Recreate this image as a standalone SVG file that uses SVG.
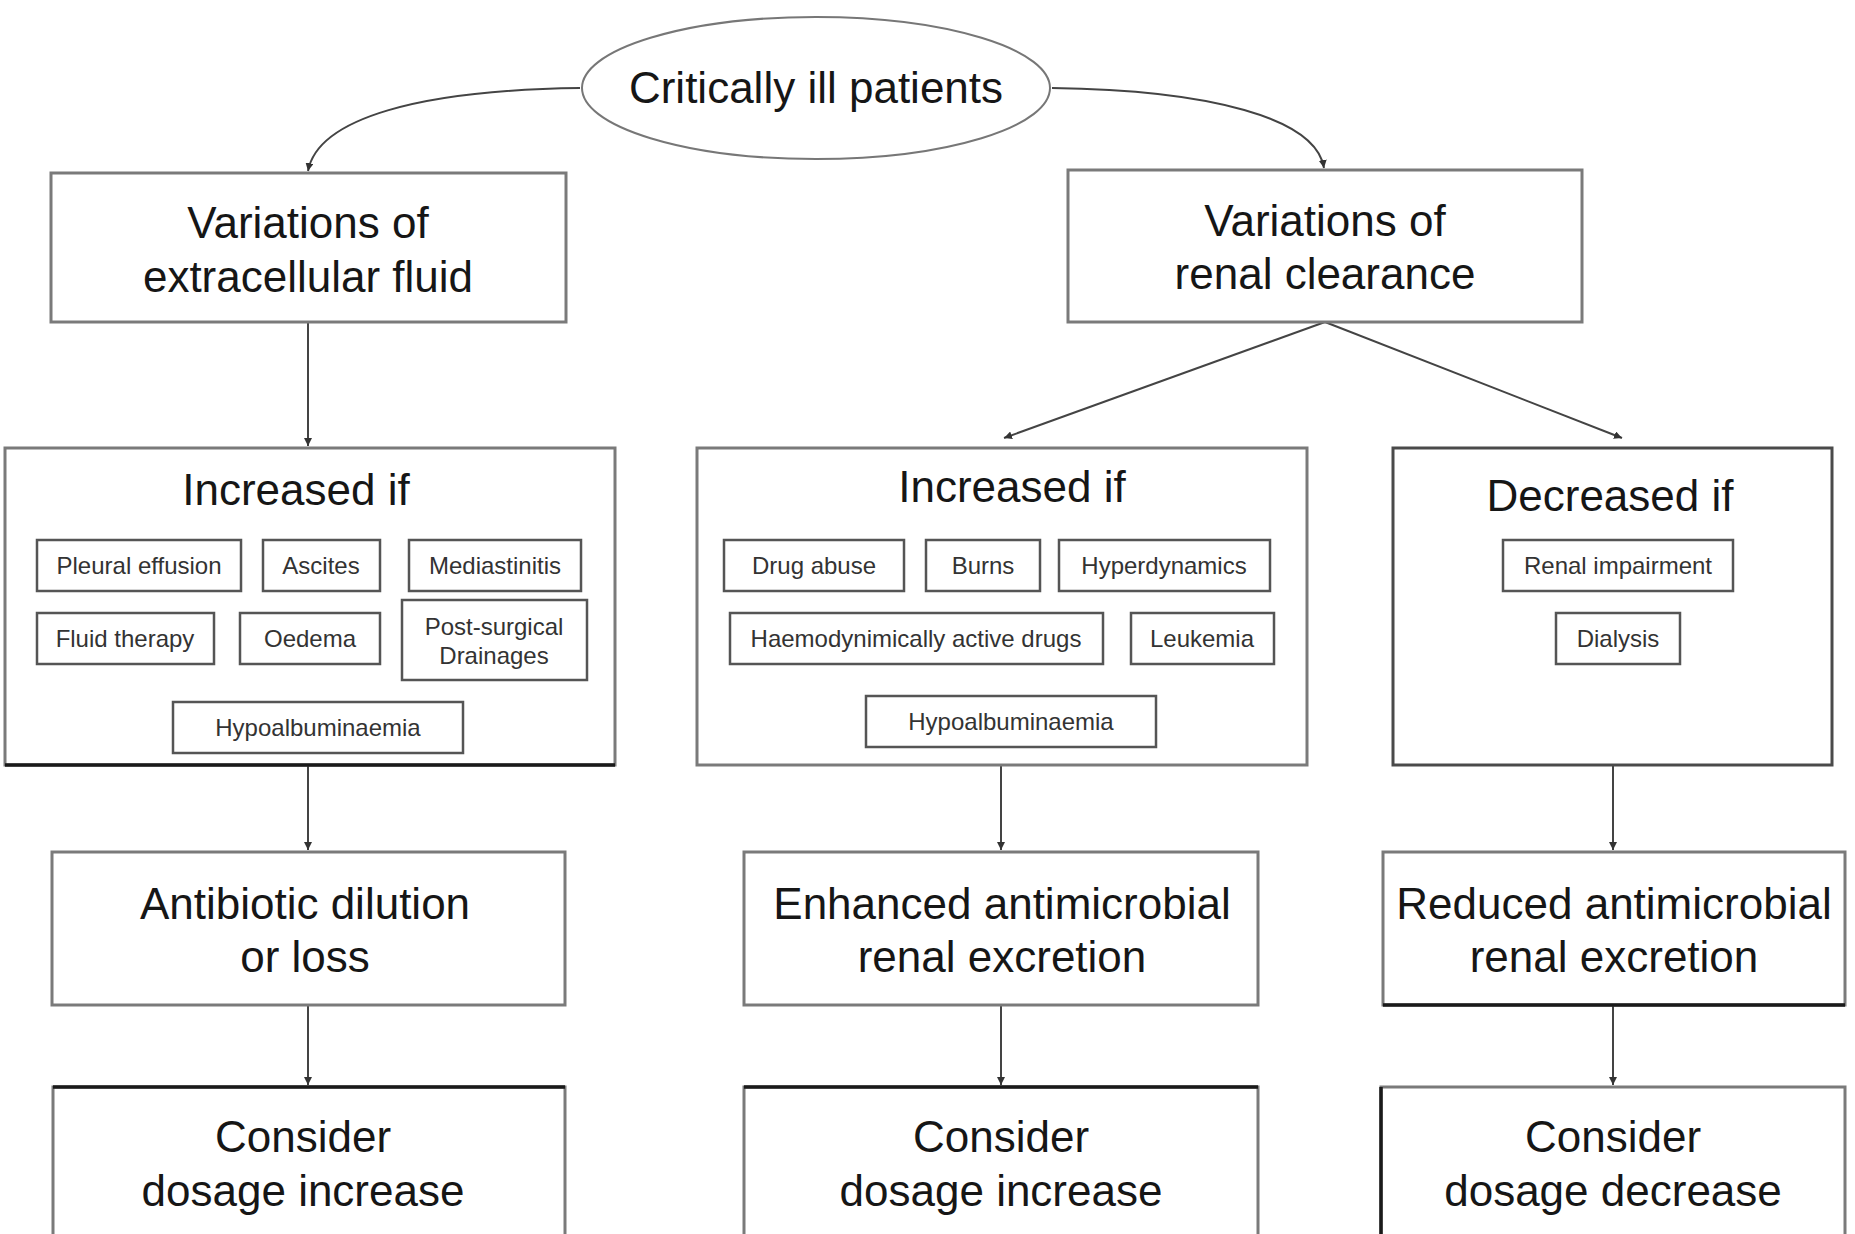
<svg xmlns="http://www.w3.org/2000/svg" width="1855" height="1234" viewBox="0 0 1855 1234">
<style>
.box{fill:#fff;stroke:#7a7a7a;stroke-width:3}
.dark{fill:#fff;stroke:#4a4a4a;stroke-width:3}
.sub{fill:#fff;stroke:#555;stroke-width:2.5}
.edge{stroke:#1a1a1a;stroke-width:3.5;fill:none}
.big{font-family:"Liberation Sans",Arial,sans-serif;font-size:44px;fill:#161616;text-anchor:middle}
.small{font-family:"Liberation Sans",Arial,sans-serif;font-size:24px;fill:#333;text-anchor:middle}
.conn{fill:none;stroke:#444;stroke-width:2}
</style>
<defs>
<marker id="arr" viewBox="0 0 10 10" refX="10" refY="5" markerWidth="4" markerHeight="4" orient="auto">
<path d="M0,0 L10,5 L0,10 Z" fill="#333"/>
</marker>
</defs>
<rect x="0" y="0" width="1855" height="1234" fill="#fff"/>
<g id="connectors">
<path class="conn" d="M580,88 C420,90 318,118 308,171" marker-end="url(#arr)"/>
<path class="conn" d="M1052,88 C1210,90 1316,118 1324,168" marker-end="url(#arr)"/>
<path class="conn" d="M308,322 V446" marker-end="url(#arr)"/>
<path class="conn" d="M1325,322 L1004,438" marker-end="url(#arr)"/>
<path class="conn" d="M1325,322 L1622,438" marker-end="url(#arr)"/>
<path class="conn" d="M308,765 V850" marker-end="url(#arr)"/>
<path class="conn" d="M308,1005 V1085" marker-end="url(#arr)"/>
<path class="conn" d="M1001,766 V850" marker-end="url(#arr)"/>
<path class="conn" d="M1001,1005 V1085" marker-end="url(#arr)"/>
<path class="conn" d="M1613,765 V850" marker-end="url(#arr)"/>
<path class="conn" d="M1613,1005 V1085" marker-end="url(#arr)"/>
</g>
<g id="critically-ill">
<ellipse cx="816" cy="88" rx="234" ry="71" fill="#fff" stroke="#777" stroke-width="2"/>
<text class="big" x="816" y="103">Critically ill patients</text>
</g>
<g id="var-ecf">
<rect class="box" x="51" y="173" width="515" height="149"/>
<text class="big" x="308" y="238">Variations of</text>
<text class="big" x="308" y="292">extracellular fluid</text>
</g>
<g id="var-renal">
<rect class="box" x="1068" y="170" width="514" height="152"/>
<text class="big" x="1325" y="236">Variations of</text>
<text class="big" x="1325" y="289">renal clearance</text>
</g>
<g id="inc-ecf">
<rect class="box" x="5" y="448" width="610" height="317"/>
<path class="edge" d="M5,765 H615" stroke="#444"/>
<text class="big" x="296" y="505">Increased if</text>
<g id="pleural"><rect class="sub" x="37" y="540" width="204" height="51"/><text class="small" x="139" y="574">Pleural effusion</text></g>
<g id="ascites"><rect class="sub" x="263" y="540" width="117" height="51"/><text class="small" x="321" y="574">Ascites</text></g>
<g id="mediastinitis"><rect class="sub" x="409" y="540" width="172" height="51"/><text class="small" x="495" y="574">Mediastinitis</text></g>
<g id="fluid-therapy"><rect class="sub" x="37" y="613" width="177" height="51"/><text class="small" x="125" y="647">Fluid therapy</text></g>
<g id="oedema"><rect class="sub" x="240" y="613" width="140" height="51"/><text class="small" x="310" y="647">Oedema</text></g>
<g id="post-surgical"><rect class="sub" x="402" y="600" width="185" height="80"/><text class="small" x="494" y="635">Post-surgical</text><text class="small" x="494" y="664">Drainages</text></g>
<g id="hypoalb-1"><rect class="sub" x="173" y="702" width="290" height="51"/><text class="small" x="318" y="736">Hypoalbuminaemia</text></g>
</g>
<g id="inc-renal">
<rect class="box" x="697" y="448" width="610" height="317"/>
<text class="big" x="1012" y="502">Increased if</text>
<g id="drug-abuse"><rect class="sub" x="724" y="540" width="180" height="51"/><text class="small" x="814" y="574">Drug abuse</text></g>
<g id="burns"><rect class="sub" x="926" y="540" width="114" height="51"/><text class="small" x="983" y="574">Burns</text></g>
<g id="hyperdynamics"><rect class="sub" x="1059" y="540" width="211" height="51"/><text class="small" x="1164" y="574">Hyperdynamics</text></g>
<g id="haemo-drugs"><rect class="sub" x="730" y="613" width="373" height="51"/><text class="small" x="916" y="647">Haemodynimically active drugs</text></g>
<g id="leukemia"><rect class="sub" x="1131" y="613" width="143" height="51"/><text class="small" x="1202" y="647">Leukemia</text></g>
<g id="hypoalb-2"><rect class="sub" x="866" y="696" width="290" height="51"/><text class="small" x="1011" y="730">Hypoalbuminaemia</text></g>
</g>
<g id="dec-renal">
<rect class="dark" x="1393" y="448" width="439" height="317"/>
<text class="big" x="1610" y="511">Decreased if</text>
<g id="renal-impairment"><rect class="sub" x="1503" y="540" width="230" height="51"/><text class="small" x="1618" y="574">Renal impairment</text></g>
<g id="dialysis"><rect class="sub" x="1556" y="613" width="124" height="51"/><text class="small" x="1618" y="647">Dialysis</text></g>
</g>
<g id="antibiotic-dilution">
<rect class="box" x="52" y="852" width="513" height="153"/>
<text class="big" x="305" y="919">Antibiotic dilution</text>
<text class="big" x="305" y="972">or loss</text>
</g>
<g id="enhanced-excretion">
<rect class="box" x="744" y="852" width="514" height="153"/>
<text class="big" x="1002" y="919">Enhanced antimicrobial</text>
<text class="big" x="1002" y="972">renal excretion</text>
</g>
<g id="reduced-excretion">
<rect class="box" x="1383" y="852" width="462" height="153"/>
<path class="edge" d="M1383,1005 H1845" stroke="#555"/>
<text class="big" x="1614" y="919">Reduced antimicrobial</text>
<text class="big" x="1614" y="972">renal excretion</text>
</g>
<g id="consider-inc-1">
<rect class="box" x="53" y="1087" width="512" height="170"/>
<path class="edge" d="M53,1087 H565"/>
<text class="big" x="303" y="1152">Consider</text>
<text class="big" x="303" y="1206">dosage increase</text>
</g>
<g id="consider-inc-2">
<rect class="box" x="744" y="1087" width="514" height="170"/>
<path class="edge" d="M744,1087 H1258"/>
<text class="big" x="1001" y="1152">Consider</text>
<text class="big" x="1001" y="1206">dosage increase</text>
</g>
<g id="consider-dec">
<rect class="box" x="1381" y="1087" width="464" height="170"/>
<path class="edge" d="M1381,1087 V1234"/>
<text class="big" x="1613" y="1152">Consider</text>
<text class="big" x="1613" y="1206">dosage decrease</text>
</g>
</svg>
